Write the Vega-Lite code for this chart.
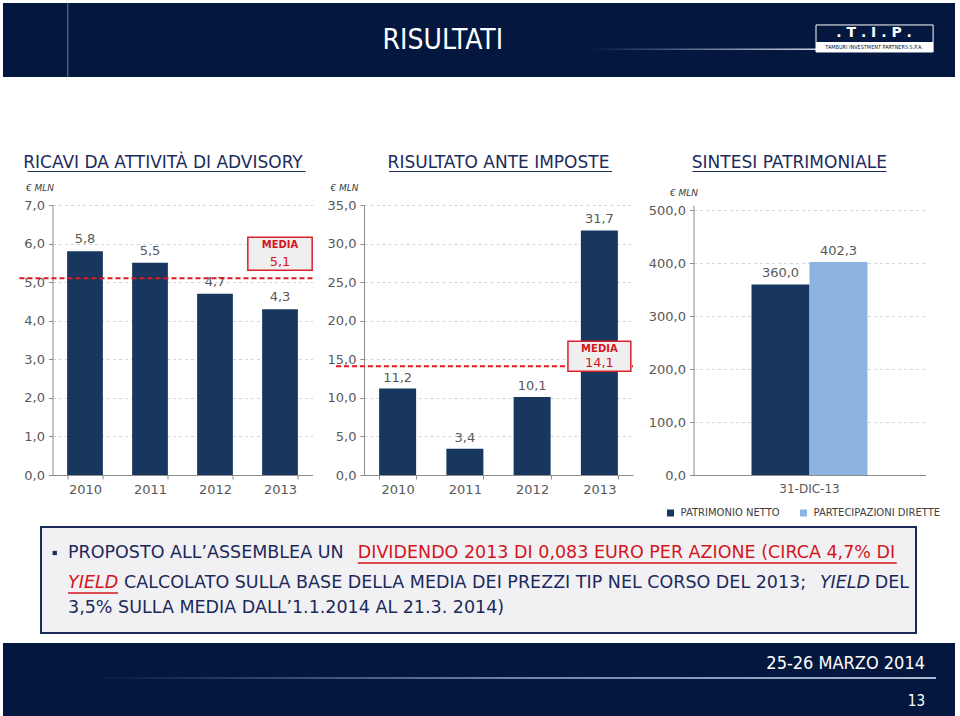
{
  "$schema": "https://vega.github.io/schema/vega-lite/v6.json",
  "background": "white",
  "padding": {"left": 3, "top": 2, "right": 0, "bottom": 0},
  "config": {
    "font": "DejaVu Sans",
    "locale": {"number": {"decimal": ",", "thousands": ".", "grouping": [3], "currency": ["€", ""]}},
    "view": {"stroke": null},
    "axis": {"labelFont": "DejaVu Sans", "labelFontSize": 13, "labelColor": "#595959", "domainColor": "#8c8c8c", "tickColor": "#8c8c8c", "tickSize": 4, "gridColor": "#d4d4d4", "gridDash": [3, 3], "titleFont": "DejaVu Sans", "labelOverlap": false},
    "title": {"font": "DejaVu Sans", "fontSize": 17, "fontWeight": "normal", "color": "#1c2b5a", "baseline": "alphabetic", "anchor": "middle"}
  },
  "spacing": 8,
  "center": true,
  "vconcat": [
    {
      "spacing": 75,
      "center": true,
      "vconcat": [
        {
          "width": 952,
          "height": 74,
          "view": {"fill": "#04183f", "stroke": null},
          "data": {"values": [{"titolo": "RISULTATI", "logo": ". T . I . P .", "societa": "TAMBURI INVESTMENT PARTNERS S.P.A."}]},
          "layer": [
            {
              "mark": {"type": "rule", "color": "#6f7a93", "strokeWidth": 1},
              "encoding": {
                "x": {"datum": 6.8, "type": "quantitative", "scale": {"domain": [0, 100], "nice": false, "zero": false}, "axis": null},
                "y": {"datum": 0, "type": "quantitative", "scale": {"domain": [0, 100], "nice": false, "zero": false}, "axis": null},
                "y2": {"datum": 100}
              }
            },
            {
              "mark": {"type": "rect", "fill": {"gradient": "linear", "x1": 0, "y1": 0, "x2": 1, "y2": 0, "stops": [{"offset": 0, "color": "#04183f"}, {"offset": 1, "color": "#c9d2e3"}]}},
              "encoding": {
                "x": {"datum": 61.7, "type": "quantitative"},
                "x2": {"datum": 85.5},
                "y": {"datum": 38.4, "type": "quantitative"},
                "y2": {"datum": 36.6}
              }
            },
            {
              "mark": {"type": "text", "color": "white", "fontSize": 28, "font": "Liberation Sans Narrow, DejaVu Sans Condensed, sans-serif", "align": "center", "baseline": "middle"},
              "encoding": {
                "x": {"datum": 46.2, "type": "quantitative"},
                "y": {"datum": 48.6, "type": "quantitative"},
                "text": {"field": "titolo"}
              }
            },
            {
              "mark": {"type": "rect", "fill": "#04183f", "stroke": "white", "strokeWidth": 1},
              "encoding": {
                "x": {"datum": 85.4, "type": "quantitative"},
                "x2": {"datum": 97.7},
                "y": {"datum": 70.3, "type": "quantitative"},
                "y2": {"datum": 33.8}
              }
            },
            {
              "mark": {"type": "rect", "fill": "white"},
              "encoding": {
                "x": {"datum": 85.4, "type": "quantitative"},
                "x2": {"datum": 97.7},
                "y": {"datum": 47.3, "type": "quantitative"},
                "y2": {"datum": 33.8}
              }
            },
            {
              "mark": {"type": "text", "color": "white", "fontSize": 14, "fontWeight": "bold", "align": "center", "baseline": "middle"},
              "encoding": {
                "x": {"datum": 91.5, "type": "quantitative"},
                "y": {"datum": 59, "type": "quantitative"},
                "text": {"field": "logo"}
              }
            },
            {
              "mark": {"type": "text", "color": "#04183f", "fontSize": 5.5, "font": "DejaVu Sans Condensed", "align": "center", "baseline": "middle"},
              "encoding": {
                "x": {"datum": 91.5, "type": "quantitative"},
                "y": {"datum": 40.5, "type": "quantitative"},
                "text": {"field": "societa"}
              }
            }
          ]
        },
        {
          "spacing": 0,
          "resolve": {"scale": {"color": "independent"}, "legend": {"color": "independent"}},
          "hconcat": [
            {
              "width": 1,
              "height": 10,
              "view": {"fill": "white", "stroke": null},
              "data": {"values": []},
              "mark": "point"
            },
            {
              "spacing": 13.5,
              "resolve": {"scale": {"color": "independent"}, "legend": {"color": "independent"}},
              "hconcat": [
                {
                  "width": 260,
                  "height": 270,
                  "title": {"text": "RICAVI DA ATTIVITÀ DI ADVISORY", "offset": -1, "dx": -3, "frame": "bounds"},
                  "layer": [
                    {
                      "data": {"values": [{"anno": "2010", "ricavi": 5.8}, {"anno": "2011", "ricavi": 5.5}, {"anno": "2012", "ricavi": 4.7}, {"anno": "2013", "ricavi": 4.3}]},
                      "layer": [
                        {
                          "mark": {"type": "bar", "color": "#17375e"},
                          "encoding": {
                            "x": {"field": "anno", "type": "ordinal", "scale": {"paddingInner": 0.45, "paddingOuter": 0.225}, "axis": {"title": null, "labelAngle": 0, "tickBand": "extent", "labelPadding": 4}},
                            "y": {"field": "ricavi", "type": "quantitative", "scale": {"domain": [0, 7], "nice": false}, "axis": {"title": "€ MLN", "values": [0, 1, 2, 3, 4, 5, 6, 7], "labelOverlap": false, "format": ".1f", "grid": true, "titleAngle": 0, "titleAlign": "left", "titleBaseline": "middle", "titleX": -27, "titleY": -18, "titleFontSize": 9, "titleFontStyle": "italic", "titleFontWeight": "normal", "titleColor": "#404040", "labelPadding": 4}}
                          }
                        },
                        {
                          "mark": {"type": "text", "dy": -12, "fontSize": 13, "color": "#595959"},
                          "encoding": {
                            "x": {"field": "anno", "type": "ordinal", "axis": {"title": null, "labelAngle": 0, "tickBand": "extent", "labelPadding": 4}},
                            "y": {"field": "ricavi", "type": "quantitative", "axis": {"title": "€ MLN", "values": [0, 1, 2, 3, 4, 5, 6, 7], "labelOverlap": false, "format": ".1f", "grid": true, "titleAngle": 0, "titleAlign": "left", "titleBaseline": "middle", "titleX": -27, "titleY": -18, "titleFontSize": 9, "titleFontStyle": "italic", "titleFontWeight": "normal", "titleColor": "#404040", "labelPadding": 4}},
                            "text": {"field": "ricavi", "type": "quantitative", "format": ".1f"}
                          }
                        }
                      ]
                    },
                    {
                      "data": {"values": [{"anno": "2013", "media": 5.1}]},
                      "layer": [
                        {
                          "mark": {"type": "rule", "color": "#1c2b5a", "strokeWidth": 1, "xOffset": -57.5, "x2Offset": 25.5},
                          "encoding": {
                            "x": {"datum": "2010", "type": "ordinal", "axis": {"title": null, "labelAngle": 0, "tickBand": "extent", "labelPadding": 4}},
                            "x2": {"datum": "2013"},
                            "y": {"datum": 7.869, "type": "quantitative", "axis": {"title": "€ MLN", "values": [0, 1, 2, 3, 4, 5, 6, 7], "labelOverlap": false, "format": ".1f", "grid": true, "titleAngle": 0, "titleAlign": "left", "titleBaseline": "middle", "titleX": -27, "titleY": -18, "titleFontSize": 9, "titleFontStyle": "italic", "titleFontWeight": "normal", "titleColor": "#404040", "labelPadding": 4}}
                          }
                        },
                        {
                          "mark": {"type": "rule", "color": "#e3161e", "strokeDash": [5, 3], "strokeWidth": 2, "xOffset": -65.5, "x2Offset": 32.5},
                          "encoding": {
                            "x": {"datum": "2010", "type": "ordinal", "axis": {"title": null, "labelAngle": 0, "tickBand": "extent", "labelPadding": 4}},
                            "x2": {"datum": "2013"},
                            "y": {"field": "media", "type": "quantitative", "axis": {"title": "€ MLN", "values": [0, 1, 2, 3, 4, 5, 6, 7], "labelOverlap": false, "format": ".1f", "grid": true, "titleAngle": 0, "titleAlign": "left", "titleBaseline": "middle", "titleX": -27, "titleY": -18, "titleFontSize": 9, "titleFontStyle": "italic", "titleFontWeight": "normal", "titleColor": "#404040", "labelPadding": 4}}
                          }
                        },
                        {
                          "mark": {"type": "bar", "fill": "#efefef", "stroke": "#d9222a", "strokeWidth": 1.5, "width": {"band": 1.8}, "yOffset": -8, "y2Offset": -41},
                          "encoding": {
                            "x": {"field": "anno", "type": "ordinal", "axis": {"title": null, "labelAngle": 0, "tickBand": "extent", "labelPadding": 4}},
                            "y": {"field": "media", "type": "quantitative", "axis": {"title": "€ MLN", "values": [0, 1, 2, 3, 4, 5, 6, 7], "labelOverlap": false, "format": ".1f", "grid": true, "titleAngle": 0, "titleAlign": "left", "titleBaseline": "middle", "titleX": -27, "titleY": -18, "titleFontSize": 9, "titleFontStyle": "italic", "titleFontWeight": "normal", "titleColor": "#404040", "labelPadding": 4}},
                            "y2": {"field": "media"}
                          }
                        },
                        {
                          "mark": {"type": "text", "text": "MEDIA", "fontSize": 10, "fontWeight": "bold", "color": "#d4151c", "dy": -33},
                          "encoding": {
                            "x": {"field": "anno", "type": "ordinal", "axis": {"title": null, "labelAngle": 0, "tickBand": "extent", "labelPadding": 4}},
                            "y": {"field": "media", "type": "quantitative", "axis": {"title": "€ MLN", "values": [0, 1, 2, 3, 4, 5, 6, 7], "labelOverlap": false, "format": ".1f", "grid": true, "titleAngle": 0, "titleAlign": "left", "titleBaseline": "middle", "titleX": -27, "titleY": -18, "titleFontSize": 9, "titleFontStyle": "italic", "titleFontWeight": "normal", "titleColor": "#404040", "labelPadding": 4}}
                          }
                        },
                        {
                          "mark": {"type": "text", "fontSize": 13, "color": "#d4151c", "dy": -16},
                          "encoding": {
                            "x": {"field": "anno", "type": "ordinal", "axis": {"title": null, "labelAngle": 0, "tickBand": "extent", "labelPadding": 4}},
                            "y": {"field": "media", "type": "quantitative", "axis": {"title": "€ MLN", "values": [0, 1, 2, 3, 4, 5, 6, 7], "labelOverlap": false, "format": ".1f", "grid": true, "titleAngle": 0, "titleAlign": "left", "titleBaseline": "middle", "titleX": -27, "titleY": -18, "titleFontSize": 9, "titleFontStyle": "italic", "titleFontWeight": "normal", "titleColor": "#404040", "labelPadding": 4}},
                            "text": {"field": "media", "type": "quantitative", "format": ".1f"}
                          }
                        }
                      ]
                    }
                  ]
                },
                {
                  "width": 269,
                  "height": 270,
                  "title": {"text": "RISULTATO ANTE IMPOSTE", "offset": -1, "frame": "group"},
                  "layer": [
                    {
                      "data": {"values": [{"anno": "2010", "risultato": 11.2}, {"anno": "2011", "risultato": 3.4}, {"anno": "2012", "risultato": 10.1}, {"anno": "2013", "risultato": 31.7}]},
                      "layer": [
                        {
                          "mark": {"type": "bar", "color": "#17375e"},
                          "encoding": {
                            "x": {"field": "anno", "type": "ordinal", "scale": {"paddingInner": 0.45, "paddingOuter": 0.225}, "axis": {"title": null, "labelAngle": 0, "tickBand": "extent", "labelPadding": 4}},
                            "y": {"field": "risultato", "type": "quantitative", "scale": {"domain": [0, 35], "nice": false}, "axis": {"title": "€ MLN", "values": [0, 5, 10, 15, 20, 25, 30, 35], "labelOverlap": false, "format": ".1f", "grid": true, "titleAngle": 0, "titleAlign": "left", "titleBaseline": "middle", "titleX": -34, "titleY": -18, "titleFontSize": 9, "titleFontStyle": "italic", "titleFontWeight": "normal", "titleColor": "#404040", "labelPadding": 4}}
                          }
                        },
                        {
                          "mark": {"type": "text", "dy": -11, "fontSize": 13, "color": "#595959"},
                          "encoding": {
                            "x": {"field": "anno", "type": "ordinal", "axis": {"title": null, "labelAngle": 0, "tickBand": "extent", "labelPadding": 4}},
                            "y": {"field": "risultato", "type": "quantitative", "axis": {"title": "€ MLN", "values": [0, 5, 10, 15, 20, 25, 30, 35], "labelOverlap": false, "format": ".1f", "grid": true, "titleAngle": 0, "titleAlign": "left", "titleBaseline": "middle", "titleX": -34, "titleY": -18, "titleFontSize": 9, "titleFontStyle": "italic", "titleFontWeight": "normal", "titleColor": "#404040", "labelPadding": 4}},
                            "text": {"field": "risultato", "type": "quantitative", "format": ".1f"}
                          }
                        }
                      ]
                    },
                    {
                      "data": {"values": [{"anno": "2013", "media": 14.1}]},
                      "layer": [
                        {
                          "mark": {"type": "rule", "color": "#1c2b5a", "strokeWidth": 1, "xOffset": -8.6, "x2Offset": 12.6},
                          "encoding": {
                            "x": {"datum": "2010", "type": "ordinal", "axis": {"title": null, "labelAngle": 0, "tickBand": "extent", "labelPadding": 4}},
                            "x2": {"datum": "2013"},
                            "y": {"datum": 39.34, "type": "quantitative", "axis": {"title": "€ MLN", "values": [0, 5, 10, 15, 20, 25, 30, 35], "labelOverlap": false, "format": ".1f", "grid": true, "titleAngle": 0, "titleAlign": "left", "titleBaseline": "middle", "titleX": -34, "titleY": -18, "titleFontSize": 9, "titleFontStyle": "italic", "titleFontWeight": "normal", "titleColor": "#404040", "labelPadding": 4}}
                          }
                        },
                        {
                          "mark": {"type": "rule", "color": "#e3161e", "strokeDash": [5, 3], "strokeWidth": 2, "xOffset": -61.6, "x2Offset": 33.6},
                          "encoding": {
                            "x": {"datum": "2010", "type": "ordinal", "axis": {"title": null, "labelAngle": 0, "tickBand": "extent", "labelPadding": 4}},
                            "x2": {"datum": "2013"},
                            "y": {"field": "media", "type": "quantitative", "axis": {"title": "€ MLN", "values": [0, 5, 10, 15, 20, 25, 30, 35], "labelOverlap": false, "format": ".1f", "grid": true, "titleAngle": 0, "titleAlign": "left", "titleBaseline": "middle", "titleX": -34, "titleY": -18, "titleFontSize": 9, "titleFontStyle": "italic", "titleFontWeight": "normal", "titleColor": "#404040", "labelPadding": 4}}
                          }
                        },
                        {
                          "mark": {"type": "bar", "fill": "#efefef", "stroke": "#d9222a", "strokeWidth": 1.5, "width": {"band": 1.7}, "yOffset": 5, "y2Offset": -25},
                          "encoding": {
                            "x": {"field": "anno", "type": "ordinal", "axis": {"title": null, "labelAngle": 0, "tickBand": "extent", "labelPadding": 4}},
                            "y": {"field": "media", "type": "quantitative", "axis": {"title": "€ MLN", "values": [0, 5, 10, 15, 20, 25, 30, 35], "labelOverlap": false, "format": ".1f", "grid": true, "titleAngle": 0, "titleAlign": "left", "titleBaseline": "middle", "titleX": -34, "titleY": -18, "titleFontSize": 9, "titleFontStyle": "italic", "titleFontWeight": "normal", "titleColor": "#404040", "labelPadding": 4}},
                            "y2": {"field": "media"}
                          }
                        },
                        {
                          "mark": {"type": "text", "text": "MEDIA", "fontSize": 10, "fontWeight": "bold", "color": "#d4151c", "dy": -17},
                          "encoding": {
                            "x": {"field": "anno", "type": "ordinal", "axis": {"title": null, "labelAngle": 0, "tickBand": "extent", "labelPadding": 4}},
                            "y": {"field": "media", "type": "quantitative", "axis": {"title": "€ MLN", "values": [0, 5, 10, 15, 20, 25, 30, 35], "labelOverlap": false, "format": ".1f", "grid": true, "titleAngle": 0, "titleAlign": "left", "titleBaseline": "middle", "titleX": -34, "titleY": -18, "titleFontSize": 9, "titleFontStyle": "italic", "titleFontWeight": "normal", "titleColor": "#404040", "labelPadding": 4}}
                          }
                        },
                        {
                          "mark": {"type": "text", "fontSize": 13, "color": "#d4151c", "dy": -3},
                          "encoding": {
                            "x": {"field": "anno", "type": "ordinal", "axis": {"title": null, "labelAngle": 0, "tickBand": "extent", "labelPadding": 4}},
                            "y": {"field": "media", "type": "quantitative", "axis": {"title": "€ MLN", "values": [0, 5, 10, 15, 20, 25, 30, 35], "labelOverlap": false, "format": ".1f", "grid": true, "titleAngle": 0, "titleAlign": "left", "titleBaseline": "middle", "titleX": -34, "titleY": -18, "titleFontSize": 9, "titleFontStyle": "italic", "titleFontWeight": "normal", "titleColor": "#404040", "labelPadding": 4}},
                            "text": {"field": "media", "type": "quantitative", "format": ".1f"}
                          }
                        }
                      ]
                    }
                  ]
                },
                {
                  "width": 232,
                  "height": 270,
                  "title": {"text": "SINTESI PATRIMONIALE", "offset": -1, "dx": -5, "frame": "bounds"},
                  "layer": [
                    {
                      "data": {"values": [{"data": "31-dic-13", "voce": "Patrimonio netto", "valore": 360.0}, {"data": "31-dic-13", "voce": "Partecipazioni dirette", "valore": 402.3}]},
                      "layer": [
                        {
                          "mark": {"type": "bar"},
                          "encoding": {
                            "x": {"field": "data", "type": "nominal", "scale": {"paddingInner": 0, "paddingOuter": 0.5}, "axis": {"title": null, "labelAngle": 0, "ticks": false, "labelPadding": 8, "labelFontSize": 12, "labelExpr": "upper(datum.label)"}},
                            "xOffset": {"field": "voce", "type": "nominal", "sort": ["Patrimonio netto", "Partecipazioni dirette"], "scale": {"paddingInner": 0, "paddingOuter": 0}},
                            "y": {"field": "valore", "type": "quantitative", "scale": {"domain": [0, 510], "nice": false}, "axis": {"title": "€ MLN", "values": [0, 100, 200, 300, 400, 500], "labelOverlap": false, "format": ".1f", "grid": true, "titleAngle": 0, "titleAlign": "left", "titleBaseline": "middle", "titleX": -24, "titleY": -13, "titleFontSize": 9, "titleFontStyle": "italic", "titleFontWeight": "normal", "titleColor": "#404040", "labelPadding": 4}},
                            "color": {"field": "voce", "type": "nominal", "scale": {"domain": ["Patrimonio netto", "Partecipazioni dirette"], "range": ["#17375e", "#8db3e2"]}, "legend": {"orient": "none", "legendX": -28, "legendY": 303, "direction": "horizontal", "title": null, "symbolType": "square", "symbolSize": 49, "symbolStrokeWidth": 0, "labelFontSize": 10, "labelColor": "#404040", "labelExpr": "upper(datum.label)", "columnPadding": 18, "labelOffset": 5}}
                          }
                        },
                        {
                          "mark": {"type": "text", "dy": -11, "fontSize": 13, "color": "#595959"},
                          "encoding": {
                            "x": {"field": "data", "type": "nominal", "axis": {"title": null, "labelAngle": 0, "ticks": false, "labelPadding": 8, "labelFontSize": 12, "labelExpr": "upper(datum.label)"}},
                            "xOffset": {"field": "voce", "type": "nominal", "sort": ["Patrimonio netto", "Partecipazioni dirette"]},
                            "y": {"field": "valore", "type": "quantitative", "axis": {"title": "€ MLN", "values": [0, 100, 200, 300, 400, 500], "labelOverlap": false, "format": ".1f", "grid": true, "titleAngle": 0, "titleAlign": "left", "titleBaseline": "middle", "titleX": -24, "titleY": -13, "titleFontSize": 9, "titleFontStyle": "italic", "titleFontWeight": "normal", "titleColor": "#404040", "labelPadding": 4}},
                            "text": {"field": "valore", "type": "quantitative", "format": ".1f"}
                          }
                        }
                      ]
                    },
                    {
                      "data": {"values": [{"data": "31-dic-13"}]},
                      "mark": {"type": "rule", "color": "#1c2b5a", "strokeWidth": 1, "xOffset": -117, "x2Offset": 77},
                      "encoding": {
                        "x": {"datum": "31-dic-13", "type": "nominal", "axis": {"title": null, "labelAngle": 0, "ticks": false, "labelPadding": 8, "labelFontSize": 12, "labelExpr": "upper(datum.label)"}},
                        "x2": {"datum": "31-dic-13"},
                        "y": {"datum": 573.3, "type": "quantitative", "axis": {"title": "€ MLN", "values": [0, 100, 200, 300, 400, 500], "labelOverlap": false, "format": ".1f", "grid": true, "titleAngle": 0, "titleAlign": "left", "titleBaseline": "middle", "titleX": -24, "titleY": -13, "titleFontSize": 9, "titleFontStyle": "italic", "titleFontWeight": "normal", "titleColor": "#404040", "labelPadding": 4}}
                      }
                    }
                  ]
                }
              ]
            }
          ]
        }
      ]
    },
    {
      "spacing": 9,
      "center": true,
      "vconcat": [
        {
          "width": 875,
          "height": 106,
          "view": {"fill": "#f1f1f4", "stroke": "#1c2a5a", "strokeWidth": 2},
          "data": {"values": [{"t1a": "PROPOSTO ALL’ASSEMBLEA UN", "t1b": "DIVIDENDO 2013 DI 0,083 EURO PER AZIONE (CIRCA 4,7% DI", "t2a": "YIELD", "t2b": "CALCOLATO SULLA BASE DELLA MEDIA DEI PREZZI TIP NEL CORSO DEL 2013;", "t2c": "YIELD", "t2d": "DEL", "t3": "3,5% SULLA MEDIA DALL’1.1.2014 AL 21.3. 2014)"}]},
          "layer": [
            {
              "mark": {"type": "point", "shape": "square", "size": 18, "filled": true, "color": "#1c2a5a", "opacity": 1},
              "encoding": {
                "x": {"datum": 1.57, "type": "quantitative", "scale": {"domain": [0, 100], "nice": false, "zero": false}, "axis": null},
                "y": {"datum": 75.5, "type": "quantitative", "scale": {"domain": [0, 100], "nice": false, "zero": false}, "axis": null}
              }
            },
            {
              "mark": {"type": "text", "fontSize": 17.5, "color": "#1c2a5a", "align": "left", "baseline": "middle"},
              "encoding": {"x": {"datum": 3.09, "type": "quantitative"}, "y": {"datum": 75.5, "type": "quantitative"}, "text": {"field": "t1a"}}
            },
            {
              "mark": {"type": "text", "fontSize": 17.5, "color": "#d4151c", "align": "left", "baseline": "middle"},
              "encoding": {"x": {"datum": 36.2, "type": "quantitative"}, "y": {"datum": 75.5, "type": "quantitative"}, "text": {"field": "t1b"}}
            },
            {
              "mark": {"type": "rule", "color": "#d4151c", "strokeWidth": 1.5},
              "encoding": {"x": {"datum": 36.2, "type": "quantitative"}, "x2": {"datum": 97.8}, "y": {"datum": 66, "type": "quantitative"}}
            },
            {
              "mark": {"type": "text", "fontSize": 17.5, "fontStyle": "italic", "color": "#d4151c", "align": "left", "baseline": "middle"},
              "encoding": {"x": {"datum": 3.09, "type": "quantitative"}, "y": {"datum": 47.2, "type": "quantitative"}, "text": {"field": "t2a"}}
            },
            {
              "mark": {"type": "rule", "color": "#d4151c", "strokeWidth": 1.5},
              "encoding": {"x": {"datum": 3.09, "type": "quantitative"}, "x2": {"datum": 8.8}, "y": {"datum": 37.7, "type": "quantitative"}}
            },
            {
              "mark": {"type": "text", "fontSize": 17.5, "color": "#1c2a5a", "align": "left", "baseline": "middle"},
              "encoding": {"x": {"datum": 9.49, "type": "quantitative"}, "y": {"datum": 47.2, "type": "quantitative"}, "text": {"field": "t2b"}}
            },
            {
              "mark": {"type": "text", "fontSize": 17.5, "fontStyle": "italic", "color": "#1c2a5a", "align": "right", "baseline": "middle"},
              "encoding": {"x": {"datum": 94.75, "type": "quantitative"}, "y": {"datum": 47.2, "type": "quantitative"}, "text": {"field": "t2c"}}
            },
            {
              "mark": {"type": "text", "fontSize": 17.5, "color": "#1c2a5a", "align": "right", "baseline": "middle"},
              "encoding": {"x": {"datum": 99.2, "type": "quantitative"}, "y": {"datum": 47.2, "type": "quantitative"}, "text": {"field": "t2d"}}
            },
            {
              "mark": {"type": "text", "fontSize": 17.5, "color": "#1c2a5a", "align": "left", "baseline": "middle"},
              "encoding": {"x": {"datum": 3.09, "type": "quantitative"}, "y": {"datum": 23.6, "type": "quantitative"}, "text": {"field": "t3"}}
            }
          ]
        },
        {
          "width": 952,
          "height": 74,
          "view": {"fill": "#04183f", "stroke": null},
          "data": {"values": [{"data": "25-26 MARZO 2014", "pagina": "13"}]},
          "layer": [
            {
              "mark": {"type": "rect", "fill": {"gradient": "linear", "x1": 0, "y1": 0, "x2": 1, "y2": 0, "stops": [{"offset": 0, "color": "#04183f"}, {"offset": 0.5, "color": "#6f83a8"}, {"offset": 1, "color": "#a9b8d2"}]}},
              "encoding": {
                "x": {"datum": 9, "type": "quantitative", "scale": {"domain": [0, 100], "nice": false, "zero": false}, "axis": null},
                "x2": {"datum": 98},
                "y": {"datum": 54, "type": "quantitative", "scale": {"domain": [0, 100], "nice": false, "zero": false}, "axis": null},
                "y2": {"datum": 51.5}
              }
            },
            {
              "mark": {"type": "text", "color": "white", "fontSize": 18, "font": "Liberation Sans Narrow, DejaVu Sans Condensed, sans-serif", "align": "right", "baseline": "middle"},
              "encoding": {"x": {"datum": 96.85, "type": "quantitative"}, "y": {"datum": 71.6, "type": "quantitative"}, "text": {"field": "data"}}
            },
            {
              "mark": {"type": "text", "color": "white", "fontSize": 15, "font": "Liberation Sans Narrow, DejaVu Sans Condensed, sans-serif", "align": "right", "baseline": "middle"},
              "encoding": {"x": {"datum": 96.85, "type": "quantitative"}, "y": {"datum": 21.6, "type": "quantitative"}, "text": {"field": "pagina"}}
            }
          ]
        }
      ]
    }
  ]
}
